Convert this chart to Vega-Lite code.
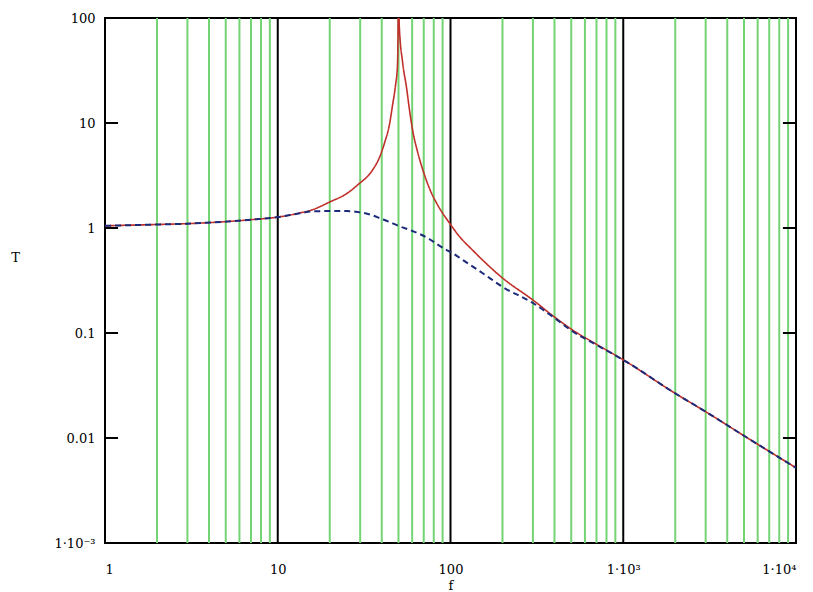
{
  "$schema": "https://vega.github.io/schema/vega-lite/v6.json",
  "width": 691,
  "height": 525,
  "autosize": {"type": "none"},
  "padding": {"left": 105, "top": 18, "right": 17, "bottom": 49},
  "background": "white",
  "config": {
    "view": {"stroke": "black", "strokeWidth": 2},
    "font": "DejaVu Serif"
  },
  "resolve": {"scale": {"color": "independent", "strokeDash": "independent", "strokeWidth": "independent"}},
  "datasets": {
    "grid": [
      {"f": 2, "kind": "minor"}, {"f": 3, "kind": "minor"}, {"f": 4, "kind": "minor"}, {"f": 5, "kind": "minor"},
      {"f": 6, "kind": "minor"}, {"f": 7, "kind": "minor"}, {"f": 8, "kind": "minor"}, {"f": 9, "kind": "minor"},
      {"f": 20, "kind": "minor"}, {"f": 30, "kind": "minor"}, {"f": 40, "kind": "minor"}, {"f": 50, "kind": "minor"},
      {"f": 60, "kind": "minor"}, {"f": 70, "kind": "minor"}, {"f": 80, "kind": "minor"}, {"f": 90, "kind": "minor"},
      {"f": 200, "kind": "minor"}, {"f": 300, "kind": "minor"}, {"f": 400, "kind": "minor"}, {"f": 500, "kind": "minor"},
      {"f": 600, "kind": "minor"}, {"f": 700, "kind": "minor"}, {"f": 800, "kind": "minor"}, {"f": 900, "kind": "minor"},
      {"f": 2000, "kind": "minor"}, {"f": 3000, "kind": "minor"}, {"f": 4000, "kind": "minor"}, {"f": 5000, "kind": "minor"},
      {"f": 6000, "kind": "minor"}, {"f": 7000, "kind": "minor"}, {"f": 8000, "kind": "minor"}, {"f": 9000, "kind": "minor"},
      {"f": 10, "kind": "decade"}, {"f": 100, "kind": "decade"}, {"f": 1000, "kind": "decade"}
    ],
    "ticks": [
      {"T": 10, "f1": 1, "f2": 1.19}, {"T": 1, "f1": 1, "f2": 1.19}, {"T": 0.1, "f1": 1, "f2": 1.19}, {"T": 0.01, "f1": 1, "f2": 1.19},
      {"T": 10, "f1": 8400, "f2": 10000}, {"T": 1, "f1": 8400, "f2": 10000}, {"T": 0.1, "f1": 8400, "f2": 10000}, {"T": 0.01, "f1": 8400, "f2": 10000}
    ],
    "curves": [
      {"f": 1, "T": 1.05, "s": "undamped"}, {"f": 2, "T": 1.08, "s": "undamped"}, {"f": 3, "T": 1.1, "s": "undamped"},
      {"f": 5, "T": 1.15, "s": "undamped"}, {"f": 7, "T": 1.2, "s": "undamped"}, {"f": 10, "T": 1.27, "s": "undamped"},
      {"f": 13.4, "T": 1.39, "s": "undamped"}, {"f": 16, "T": 1.5, "s": "undamped"}, {"f": 20, "T": 1.77, "s": "undamped"},
      {"f": 25, "T": 2.12, "s": "undamped"}, {"f": 29, "T": 2.57, "s": "undamped"}, {"f": 35.4, "T": 3.57, "s": "undamped"},
      {"f": 38.9, "T": 4.74, "s": "undamped"}, {"f": 41.5, "T": 6.45, "s": "undamped"}, {"f": 44.5, "T": 10, "s": "undamped"},
      {"f": 46.1, "T": 14.5, "s": "undamped"}, {"f": 48, "T": 22.5, "s": "undamped"}, {"f": 49.3, "T": 35, "s": "undamped"},
      {"f": 49.7, "T": 80, "s": "undamped"}, {"f": 49.95, "T": 500, "s": "undamped"}, {"f": 50, "T": 2000, "s": "undamped"},
      {"f": 50.05, "T": 500, "s": "undamped"}, {"f": 50.5, "T": 85, "s": "undamped"}, {"f": 52.8, "T": 38, "s": "undamped"},
      {"f": 55.7, "T": 21.5, "s": "undamped"}, {"f": 57.9, "T": 13.3, "s": "undamped"}, {"f": 60.3, "T": 8.6, "s": "undamped"},
      {"f": 64.5, "T": 5.3, "s": "undamped"}, {"f": 70.7, "T": 3.2, "s": "undamped"}, {"f": 77.6, "T": 2.15, "s": "undamped"},
      {"f": 83, "T": 1.73, "s": "undamped"}, {"f": 100, "T": 1.08, "s": "undamped"}, {"f": 112, "T": 0.84, "s": "undamped"},
      {"f": 134, "T": 0.617, "s": "undamped"}, {"f": 200, "T": 0.334, "s": "undamped"}, {"f": 300, "T": 0.206, "s": "undamped"},
      {"f": 400, "T": 0.142, "s": "undamped"}, {"f": 508, "T": 0.107, "s": "undamped"}, {"f": 700, "T": 0.078, "s": "undamped"},
      {"f": 1000, "T": 0.0555, "s": "undamped"}, {"f": 2000, "T": 0.0266, "s": "undamped"}, {"f": 3000, "T": 0.0178, "s": "undamped"},
      {"f": 5000, "T": 0.0105, "s": "undamped"}, {"f": 10000, "T": 0.0052, "s": "undamped"},
      {"f": 1, "T": 1.05, "s": "damped"}, {"f": 2, "T": 1.08, "s": "damped"}, {"f": 3, "T": 1.1, "s": "damped"},
      {"f": 5, "T": 1.15, "s": "damped"}, {"f": 7, "T": 1.2, "s": "damped"}, {"f": 10, "T": 1.27, "s": "damped"},
      {"f": 13.4, "T": 1.38, "s": "damped"}, {"f": 16, "T": 1.44, "s": "damped"}, {"f": 20, "T": 1.45, "s": "damped"},
      {"f": 25, "T": 1.45, "s": "damped"}, {"f": 29, "T": 1.42, "s": "damped"}, {"f": 35, "T": 1.33, "s": "damped"},
      {"f": 39, "T": 1.24, "s": "damped"}, {"f": 45, "T": 1.13, "s": "damped"}, {"f": 50.5, "T": 1.04, "s": "damped"},
      {"f": 60, "T": 0.94, "s": "damped"}, {"f": 75, "T": 0.79, "s": "damped"}, {"f": 86, "T": 0.68, "s": "damped"},
      {"f": 95, "T": 0.617, "s": "damped"}, {"f": 102, "T": 0.58, "s": "damped"}, {"f": 120, "T": 0.486, "s": "damped"},
      {"f": 153, "T": 0.373, "s": "damped"}, {"f": 200, "T": 0.275, "s": "damped"}, {"f": 300, "T": 0.193, "s": "damped"},
      {"f": 400, "T": 0.139, "s": "damped"}, {"f": 508, "T": 0.104, "s": "damped"}, {"f": 700, "T": 0.077, "s": "damped"},
      {"f": 1000, "T": 0.0555, "s": "damped"}, {"f": 2000, "T": 0.0266, "s": "damped"}, {"f": 3000, "T": 0.0178, "s": "damped"},
      {"f": 5000, "T": 0.0105, "s": "damped"}, {"f": 10000, "T": 0.0052, "s": "damped"}
    ]
  },
  "layer": [
    {
      "data": {"name": "grid"},
      "mark": {"type": "rule", "strokeWidth": 2},
      "encoding": {
        "x": {
          "field": "f", "type": "quantitative",
          "scale": {"type": "log", "domain": [1, 10000], "nice": false},
          "axis": {
            "title": "f", "values": [1, 10, 100, 1000, 10000],
            "labelExpr": "datum.value == 1000 ? '1·10³' : datum.value == 10000 ? '1·10⁴' : format(datum.value, 'd')",
            "ticks": false, "domain": false, "grid": false,
            "labelPadding": 20, "labelFont": "DejaVu Serif", "labelFontSize": 13, "labelColor": "black",
            "titleFont": "DejaVu Serif", "titleFontSize": 13, "titleFontWeight": "normal", "titleColor": "black",
            "titleY": 36, "titleBaseline": "top"
          }
        },
        "color": {
          "field": "kind", "type": "nominal",
          "scale": {"domain": ["minor", "decade"], "range": ["#74d474", "#000000"]},
          "legend": null
        }
      }
    },
    {
      "data": {"name": "ticks"},
      "mark": {"type": "rule", "strokeWidth": 2, "color": "black"},
      "encoding": {
        "x": {"field": "f1", "type": "quantitative"},
        "x2": {"field": "f2"},
        "y": {"field": "T", "type": "quantitative"}
      }
    },
    {
      "data": {"name": "curves"},
      "mark": {"type": "line", "clip": true, "interpolate": "monotone"},
      "encoding": {
        "x": {"field": "f", "type": "quantitative"},
        "y": {
          "field": "T", "type": "quantitative",
          "scale": {"type": "log", "domain": [0.001, 100], "nice": false},
          "axis": {
            "title": "T", "values": [0.001, 0.01, 0.1, 1, 10, 100],
            "labelExpr": "datum.value < 0.005 ? '1·10⁻³' : format(datum.value, '~g')",
            "ticks": false, "domain": false, "grid": false,
            "labelPadding": 10, "labelFont": "DejaVu Serif", "labelFontSize": 13, "labelColor": "black",
            "titleFont": "DejaVu Serif", "titleFontSize": 13, "titleFontWeight": "normal", "titleColor": "black",
            "titleAngle": 0, "titleX": -90, "titleY": 239, "titleAlign": "center", "titleBaseline": "middle"
          }
        },
        "color": {
          "field": "s", "type": "nominal",
          "scale": {"domain": ["undamped", "damped"], "range": ["#c0302a", "#1c2a7a"]},
          "legend": null
        },
        "strokeDash": {
          "field": "s", "type": "nominal",
          "scale": {"domain": ["undamped", "damped"], "range": [[1, 0], [6, 4]]},
          "legend": null
        },
        "strokeWidth": {
          "field": "s", "type": "nominal",
          "scale": {"domain": ["undamped", "damped"], "range": [1.6, 2]},
          "legend": null
        },
        "order": {"field": "f", "type": "quantitative"}
      }
    }
  ]
}
